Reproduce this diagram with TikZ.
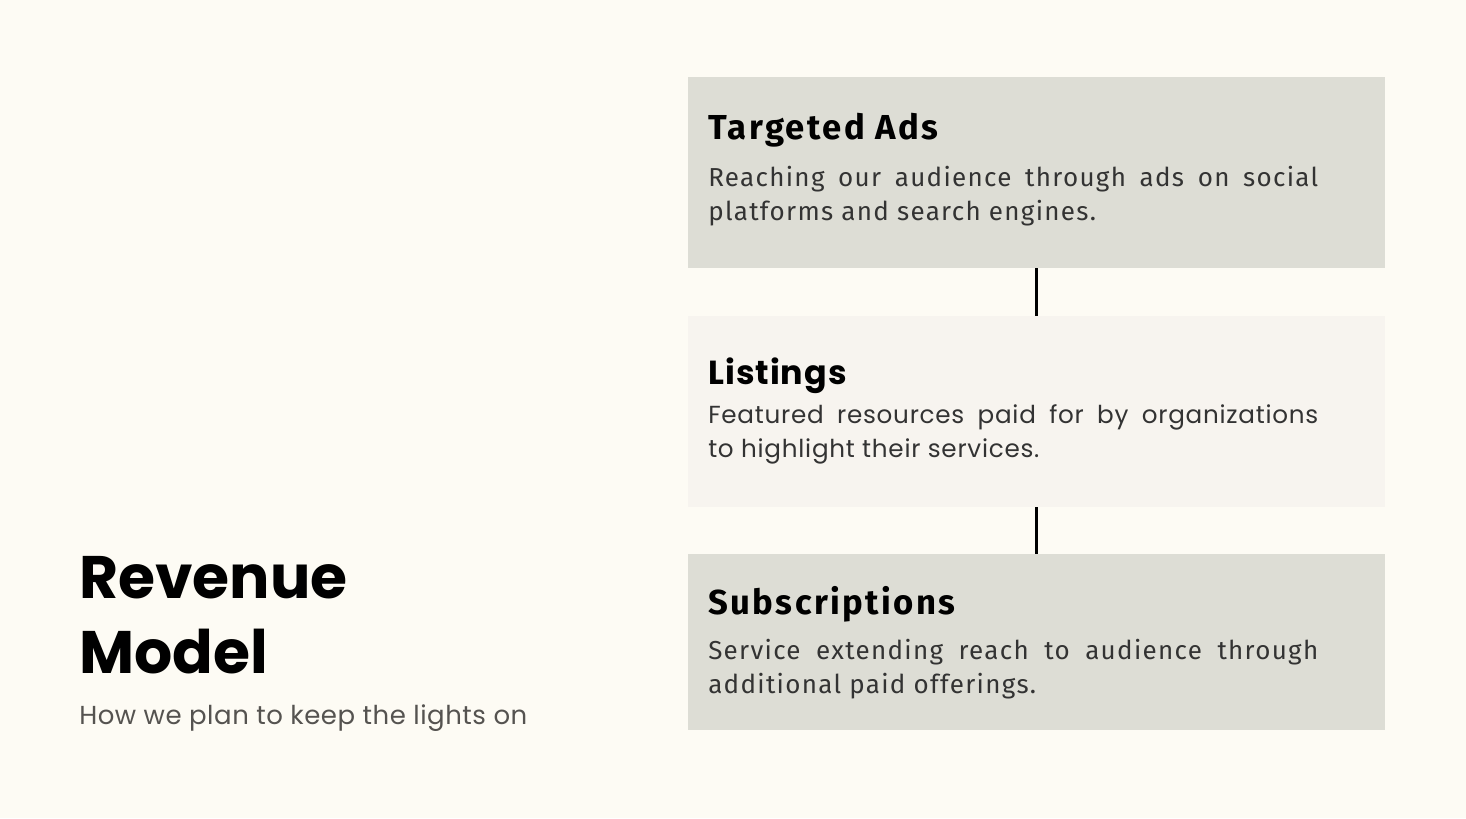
\documentclass[tikz,border=0pt]{standalone}
\usepackage{fontspec}
\usepackage[RGB]{xcolor}
\setmainfont{Poppins}
\newfontfamily\firahead[LetterSpace=7]{Fira Sans}
\newfontfamily\firabody[LetterSpace=5]{Fira Sans}
\newfontfamily\popbody[LetterSpace=3]{Poppins}
\newfontfamily\pophead[LetterSpace=3]{Poppins}
\newfontfamily\popsub[LetterSpace=2]{Poppins}
\definecolor{bg}{RGB}{253,251,244}
\definecolor{boxgrey}{RGB}{221,221,213}
\definecolor{boxlight}{RGB}{247,244,239}
\definecolor{bodytext}{RGB}{51,51,51}
\definecolor{subtext}{RGB}{85,83,80}
\newcommand{\revbox}[4]{\node[revrect, fill=#4, minimum height=#3*0.75pt] (#1) at (1036.5,#2) {};}
\newcommand{\headline}[3]{\node[anchor=base west] at (708,#1) {#3\bfseries #2};}
\newcommand{\bodytext}[3]{\node[anchor=base west, text=bodytext] at (708,#1)
    {#3\parbox[t]{457.5pt}{\hyphenpenalty=10000\exhyphenpenalty=10000 #2}};}

\begin{document}
\begin{tikzpicture}[x=0.75pt, y=-0.75pt, inner sep=0pt,
    revrect/.style={rectangle, draw=none, minimum width=697*0.75pt},
    link/.style={line width=2.2pt, black}]
\fill[bg] (0,0) rectangle (1466,818);
\useasboundingbox (0,0) rectangle (1466,818);
% boxes
\revbox{ads}{172.5}{191}{boxgrey}
\revbox{lst}{411.5}{191}{boxlight}
\revbox{sub}{642}{176}{boxgrey}
\draw[link] (ads.south) -- (lst.north);
\draw[link] (lst.south) -- (sub.north);
% texts
\headline{139}{\fontsize{26}{30}\selectfont Targeted Ads}{\firahead}
\bodytext{186}{Reaching our audience through ads on social platforms and search engines.}{\firabody\fontsize{19.5}{25.5}\selectfont}
\headline{384}{\fontsize{25}{30}\selectfont Listings}{\pophead}
\bodytext{423}{Featured resources paid for by organizations to~highlight their services.}{\popbody\fontsize{18.5}{25.5}\selectfont}
\headline{614}{\fontsize{26}{30}\selectfont Subscriptions}{\firahead}
\bodytext{659}{Service extending reach to audience through additional paid offerings.}{\firabody\fontsize{19.5}{25.5}\selectfont}
% title
\node[anchor=base west] (rev) at (79,598) {\fontsize{45}{50}\selectfont\bfseries Revenue};
\node[anchor=base west] (mod) at (79,673) {\fontsize{45}{50}\selectfont\bfseries Model};
\node[anchor=base west, text=subtext] (how) at (79,724) {\popsub\fontsize{19.5}{22}\selectfont How we plan to keep the lights on};
\end{tikzpicture}
\end{document}
